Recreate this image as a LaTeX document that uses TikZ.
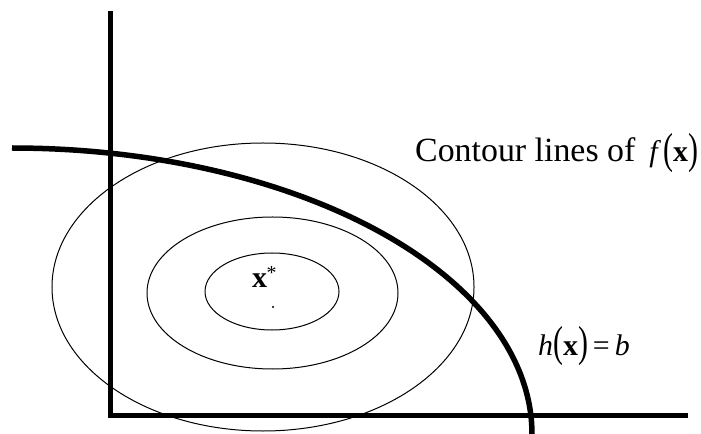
\documentclass[tikz,border=0pt]{standalone}
\usepackage{fontspec}
\usepackage{graphicx}
\setmainfont{Liberation Serif}
\newcommand{\tallp}[1]{\raisebox{-0.06em}{\scalebox{1}[1.45]{#1}}}
\tikzset{
  axisline/.style={line width=4.5bp},
  constraint/.style={line width=5.5bp},
  contour/.style={line width=1bp},
  lbl/.style={inner sep=0pt, font=\fontsize{30}{36}\selectfont}
}
\begin{document}
\begin{tikzpicture}[x=1bp,y=-1bp]
\useasboundingbox (0,0) rectangle (701,434);
% contours
\draw[contour] (263,287) ellipse [x radius=211bp, y radius=144bp];
\draw[contour] (272.5,293) ellipse [x radius=125.5bp, y radius=76bp];
\draw[contour] (272,291.5) ellipse [x radius=67bp, y radius=38.5bp];
% axes
\draw[axisline] (110.5,11) -- (110.5,415.5) -- (688,415.5);
% constraint curve
\draw[constraint] plot[domain=90:0, samples=120, smooth] ({12+520*cos(\x)},{434-286*sin(\x)});
% labels
\node[lbl, anchor=base west] (contourlbl) at (415,162) {{\fontsize{34}{40}\selectfont Contour lines of}\hspace{14bp}\textit{f}\hspace{2bp}\tallp{(}\textbf{x}\tallp{)}};
\node[lbl, anchor=base west] (hlbl) at (538,355) {\textit{h}\tallp{(}\textbf{x}\tallp{)}\,=\,\textit{b}};
\node[lbl, anchor=base west] (xstar) at (252,288) {\textbf{x}};
\node[inner sep=0pt, font=\fontsize{20}{20}\selectfont] (star) at (271.5,273) {*};
\fill (273,307) circle [radius=1.1bp];
\end{tikzpicture}
\end{document}
